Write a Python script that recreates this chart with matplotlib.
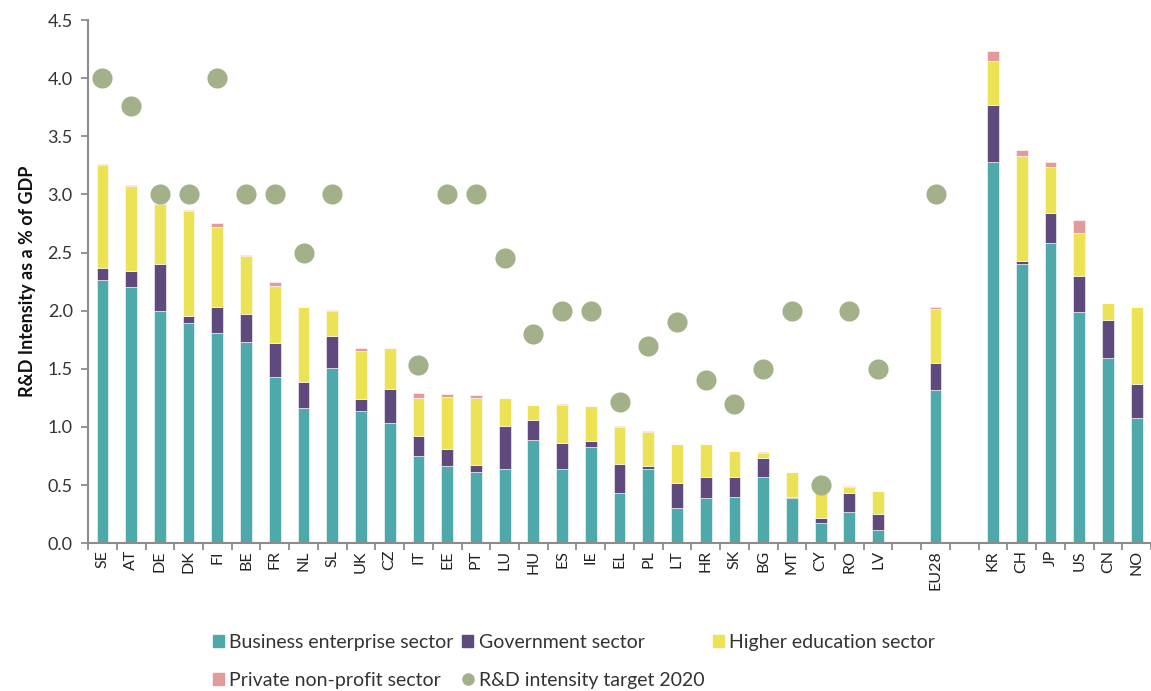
import numpy as np
import matplotlib
matplotlib.use("Agg")
import matplotlib.pyplot as plt
from matplotlib.patches import Patch
from matplotlib.lines import Line2D

plt.rcParams['font.family'] = ['Lato', 'DejaVu Sans']

# EU member states, then EU28, then other economies
eu_countries = ['SE', 'AT', 'DE', 'DK', 'FI', 'BE', 'FR', 'NL', 'SL', 'UK',
                'CZ', 'IT', 'EE', 'PT', 'LU', 'HU', 'ES', 'IE', 'EL', 'PL',
                'LT', 'HR', 'SK', 'BG', 'MT', 'CY', 'RO', 'LV']
eu_total = ['EU28']
other_countries = ['KR', 'CH', 'JP', 'US', 'CN', 'NO']

business = [2.26, 2.20, 2.00, 1.89, 1.81, 1.73, 1.43, 1.16, 1.51, 1.14,
            1.03, 0.75, 0.66, 0.61, 0.64, 0.89, 0.64, 0.83, 0.43, 0.64,
            0.30, 0.385, 0.40, 0.57, 0.39, 0.17, 0.27, 0.11,
            1.32,
            3.28, 2.40, 2.58, 1.99, 1.59, 1.08]
government = [0.11, 0.14, 0.40, 0.06, 0.22, 0.24, 0.29, 0.23, 0.27, 0.10,
              0.30, 0.17, 0.15, 0.06, 0.37, 0.17, 0.22, 0.05, 0.25, 0.02,
              0.22, 0.18, 0.17, 0.16, 0.005, 0.05, 0.16, 0.14,
              0.23,
              0.49, 0.03, 0.26, 0.31, 0.33, 0.29]
higher_edu = [0.88, 0.73, 0.52, 0.91, 0.69, 0.50, 0.49, 0.64, 0.22, 0.41,
              0.35, 0.33, 0.45, 0.58, 0.24, 0.13, 0.33, 0.30, 0.32, 0.30,
              0.33, 0.29, 0.22, 0.045, 0.22, 0.26, 0.05, 0.20,
              0.46,
              0.38, 0.90, 0.40, 0.37, 0.15, 0.66]
private_np = [0.01, 0.01, 0.01, 0.01, 0.03, 0.01, 0.04, 0.0, 0.005, 0.03,
              0.0, 0.04, 0.02, 0.02, 0.0, 0.0, 0.005, 0.0, 0.01, 0.005,
              0.0, 0.0, 0.0, 0.005, 0.0, 0.0, 0.01, 0.0,
              0.02,
              0.08, 0.05, 0.04, 0.11, 0.0, 0.0]
# 2020 targets (EU states + EU28 only; UK and CZ have none)
target = [4.0, 3.76, 3.0, 3.0, 4.0, 3.0, 3.0, 2.5, 3.0, np.nan,
          np.nan, 1.53, 3.0, 3.0, 2.45, 1.8, 2.0, 2.0, 1.21, 1.7,
          1.9, 1.4, 1.2, 1.5, 2.0, 0.5, 2.0, 1.5,
          3.0]

c_bus = '#4fa9aa'
c_gov = '#5e4a7c'
c_hes = '#ece255'
c_pnp = '#e19b9b'
c_tgt = '#a3b18a'
grey = '#8c8c8c'


def main():
    labels = eu_countries + eu_total + other_countries
    n_eu = len(eu_countries)
    # one empty slot before EU28 and one after
    pos = np.concatenate([np.arange(n_eu),
                          [n_eu + 1],
                          np.arange(len(other_countries)) + n_eu + 3])
    n_slots = n_eu + 3 + len(other_countries)

    b = np.array(business)
    g = np.array(government)
    h = np.array(higher_edu)
    p = np.array(private_np)

    fig = plt.figure(figsize=(11.51, 6.91), dpi=100)
    ax = fig.add_axes([0.0765, 0.214, 0.9235, 0.757])

    w = 0.41
    kw = dict(width=w, edgecolor='white', linewidth=0.4, zorder=2)
    ax.bar(pos, b, color=c_bus, **kw)
    ax.bar(pos, g, bottom=b, color=c_gov, **kw)
    ax.bar(pos, h, bottom=b + g, color=c_hes, **kw)
    ax.bar(pos, p, bottom=b + g + h, color=c_pnp, **kw)

    ax.scatter(pos[:len(target)], target, s=210, color=c_tgt, zorder=3,
               linewidths=0)

    ax.set_xlim(-0.5, n_slots - 0.5)
    ax.set_ylim(0, 4.5)
    ax.set_yticks(np.arange(0, 4.51, 0.5))
    ax.set_yticklabels([f'{v:.1f}' for v in np.arange(0, 4.51, 0.5)],
                       fontsize=13, color='#333333')

    ax.set_xticks(pos)
    ax.set_xticklabels(labels, rotation=90, fontsize=11.5, color='#222222')
    ax.tick_params(axis='x', which='major', length=0, pad=5)
    ax.set_xticks(np.arange(-0.5, n_slots, 1), minor=True)
    ax.tick_params(axis='x', which='minor', length=5, width=1.3,
                   color=grey, direction='out')
    ax.tick_params(axis='y', length=5, width=1.3, color=grey,
                   direction='out', pad=6)

    for s in ['top', 'right']:
        ax.spines[s].set_visible(False)
    for s in ['left', 'bottom']:
        ax.spines[s].set_color(grey)
        ax.spines[s].set_linewidth(1.5)

    ax.set_ylabel('R&D Intensity as a % of GDP', fontsize=13,
                  fontweight='bold', labelpad=8, color='#111111')

    h_bus = Patch(color=c_bus, label='Business enterprise sector')
    h_gov = Patch(color=c_gov, label='Government sector')
    h_hes = Patch(color=c_hes, label='Higher education sector')
    h_pnp = Patch(color=c_pnp, label='Private non-profit sector')
    h_tgt = Line2D([], [], marker='o', linestyle='none', markersize=8,
                   color=c_tgt, label='R&D intensity target 2020')
    # legend fills column-wise, so order for rows of three
    handles = [h_bus, h_pnp, h_gov, h_tgt, h_hes]
    fig.legend(handles=handles, ncol=3, loc='upper center',
               bbox_to_anchor=(0.4987, 0.1085), frameon=False,
               fontsize=14, handlelength=0.57, handleheight=0.57,
               handletextpad=0.26, columnspacing=0.46, labelspacing=1.1,
               labelcolor='#333333')

    fig.savefig('out.png', dpi=100)


if __name__ == '__main__':
    main()
